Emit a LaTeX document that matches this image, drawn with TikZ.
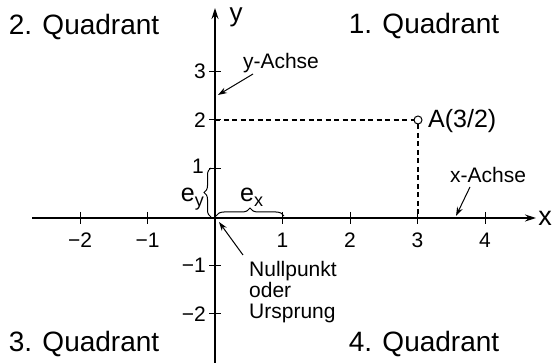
\documentclass[tikz,border=0pt]{standalone}
\usepackage{fontspec}
\setmainfont{Liberation Sans}
\usetikzlibrary{arrows.meta,decorations.pathreplacing}
\begin{document}
\begin{tikzpicture}[x=1pt,y=-1pt,
  quad/.style={font=\fontsize{28}{30}\selectfont, inner sep=0pt},
  ticklab/.style={font=\fontsize{21}{23}\selectfont, inner sep=0pt},
  small/.style={font=\fontsize{21}{21}\selectfont, inner sep=0pt},
  axisline/.style={line width=1.3pt, -{Stealth[length=11pt,width=7pt]}},
  tickmark/.style={line width=1pt},
  dashline/.style={line width=1.4pt, dash pattern=on 5pt off 3.5pt},
  pointer/.style={line width=1pt, -{Stealth[length=9pt,width=6pt]}},
  bracestyle/.style={line width=1pt, decorate, decoration={brace, amplitude=8pt}}]
\useasboundingbox (0,0) rectangle (552,363);
% quadrant labels
\node[quad] (q2) at (84,27) {2. Quadrant};
\node[quad] (q1) at (424,26) {1. Quadrant};
\node[quad] (q3) at (84,344) {3. Quadrant};
\node[quad] (q4) at (424,344) {4. Quadrant};
% axes
\coordinate (O) at (215,218);
\coordinate (xs) at (32,218);
\coordinate (xe) at (536,218);
\coordinate (yb) at (215,363);
\coordinate (yt) at (215,8);
\draw[axisline] (xs) -- (xe);
\draw[axisline] (yb) -- (yt);
\node[font=\fontsize{27}{27}\selectfont, inner sep=0pt] (xl) at (545,218) {x};
\node[font=\fontsize{26}{26}\selectfont, inner sep=0pt, anchor=base] (yl) at (236,22) {y};
% x ticks
\foreach \v/\lab in {80/−2, 147.5/−1, 282.5/1, 350/2, 417.5/3, 485/4} {
  \draw[tickmark] (\v,212) -- (\v,224);
  \node[ticklab] at (\v,240) {\lab};
}
% y ticks
\foreach \v/\lab in {71.5/3, 120/2, 265.5/−1, 314/−2} {
  \draw[tickmark] (209,\v) -- (221,\v);
  \node[ticklab, anchor=east] at (206,\v) {\lab};
}
\draw[tickmark] (209,168.5) -- (221,168.5);
\node[ticklab, anchor=east] (one) at (204,166) {1};
% point A
\node[circle, draw, line width=1pt, fill=white, inner sep=0pt, minimum size=8pt] (A) at (418,120) {};
\node[font=\fontsize{25}{25}\selectfont, inner sep=0pt, anchor=west] (Alab) at (428,121) {A(3/2)};
\coordinate (Ay) at (215,120);
\coordinate (Ax) at (418,218);
\draw[dashline] (Ay) -- (A);
\draw[dashline] (A) -- (Ax);
% braces
\coordinate (bx1) at (216,216);
\coordinate (bx2) at (284,216);
\draw[bracestyle] (bx1) -- (bx2);
\coordinate (by1) at (211,217);
\coordinate (by2) at (211,168);
\draw[bracestyle, decoration={brace, amplitude=7pt}] (by1) -- (by2);
\node[inner sep=0pt, anchor=base west, font=\fontsize{25}{25}\selectfont] (ex) at (240,202) {e\raisebox{-5pt}{\fontsize{18}{18}\selectfont x}};
\node[inner sep=0pt, anchor=base east, font=\fontsize{25}{25}\selectfont] (ey) at (204,202) {e\raisebox{-5pt}{\fontsize{18}{18}\selectfont y}};
% y-Achse
\node[small] (yach) at (281,63) {y-Achse};
\coordinate (ya1) at (253,74);
\coordinate (ya2) at (218,95);
\draw[pointer] (ya1) -- (ya2);
% x-Achse
\node[small] (xach) at (488,175) {x-Achse};
\coordinate (xa1) at (470,187);
\coordinate (xa2) at (456,216);
\draw[pointer] (xa1) -- (xa2);
% Nullpunkt
\node[inner sep=0pt, anchor=north west, align=left, font=\fontsize{21}{21}\selectfont] (null) at (249,261.5) {Nullpunkt\\oder\\Ursprung};
\coordinate (n1) at (243,255);
\coordinate (n2) at (219,222);
\draw[pointer] (n1) -- (n2);
\end{tikzpicture}
\end{document}
